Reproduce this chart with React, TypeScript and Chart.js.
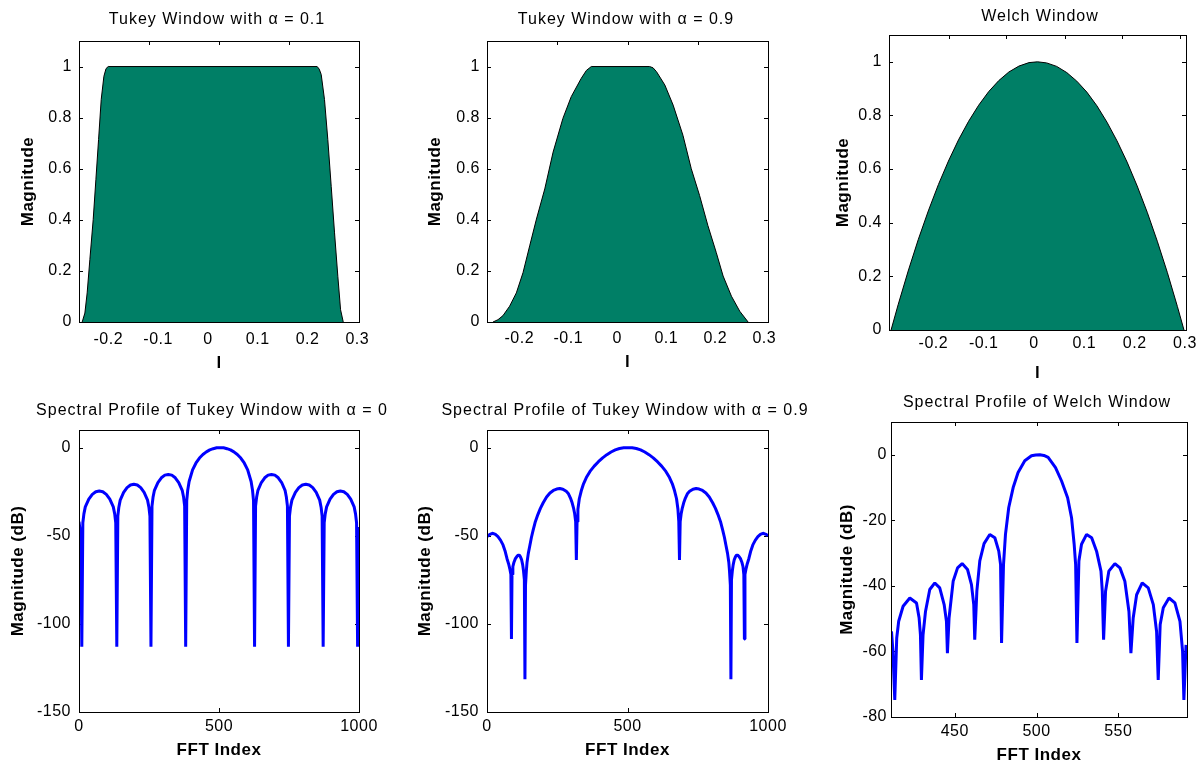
import React, { useEffect, useRef } from 'react';
import { Chart, registerables } from 'chart.js';

Chart.register(...registerables);

const FONT = '"Liberation Sans", Arial, Helvetica, sans-serif';
const GREEN = '#007F66';
const BLUE = '#0000FF';

// ---------- Data ----------
// Tukey window, alpha = 0.1
const tukey01X = [-0.2524, -0.247, -0.2424, -0.237, -0.2303, -0.2249, -0.2195, -0.2142, -0.2088, -0.2045, -0.2001, 0.2194, 0.2235, 0.2275, 0.2341, 0.2408, 0.2476, 0.2543, 0.2609, 0.2664, 0.2718];
const tukey01Y = [0, 0.035, 0.114, 0.244, 0.401, 0.557, 0.714, 0.871, 0.962, 0.992, 1, 1, 0.99, 0.969, 0.871, 0.714, 0.531, 0.349, 0.179, 0.048, 0];

// Tukey window, alpha = 0.9
const tukey09X = [-0.2537, -0.2435, -0.2333, -0.2197, -0.206, -0.1924, -0.1788, -0.165, -0.148, -0.131, -0.111, -0.094, -0.0735, -0.063, -0.053, 0.066, 0.073, 0.08, 0.097, 0.114, 0.134, 0.151, 0.168, 0.185, 0.202, 0.216, 0.233, 0.25, 0.267];
const tukey09Y = [0, 0.009, 0.025, 0.062, 0.114, 0.193, 0.298, 0.403, 0.521, 0.665, 0.797, 0.882, 0.954, 0.985, 1, 1, 0.995, 0.98, 0.928, 0.849, 0.731, 0.6, 0.495, 0.377, 0.272, 0.18, 0.101, 0.042, 0];

// Welch window
const welchX = [-0.284, -0.27, -0.25, -0.23, -0.21, -0.19, -0.17, -0.15, -0.13, -0.11, -0.09, -0.07, -0.05, -0.03, -0.01, 0.007, 0.025, 0.045, 0.065, 0.085, 0.105, 0.125, 0.145, 0.165, 0.185, 0.205, 0.225, 0.245, 0.265, 0.285, 0.298];
const welchY = [0, 0.094, 0.22, 0.337, 0.444, 0.542, 0.63, 0.709, 0.778, 0.838, 0.889, 0.93, 0.962, 0.984, 0.997, 1, 0.996, 0.983, 0.96, 0.928, 0.887, 0.836, 0.775, 0.705, 0.626, 0.537, 0.439, 0.331, 0.214, 0.087, 0];

// Spectral profile, Tukey alpha = 0 (dB vs FFT index)
const spec0X = [0, 4, 7, 10,
  13.7, 17.5, 22.5, 35, 47.5, 60, 72.5, 85, 97.5, 110, 122.5, 127.5, 131.2, 135,
  138.7, 142.3, 147.2, 159.4, 171.6, 183.8, 196, 208.2, 220.4, 232.6, 244.8, 249.7, 253.3, 257,
  260.7, 264.4, 269.4, 281.8, 294.2, 306.6, 319, 331.4, 343.8, 356.2, 368.6, 373.6, 377.3, 381,
  384.7, 388.4, 393.3, 405.6, 417.9, 430.2, 442.5, 454.8, 467.1, 479.4, 491.7, 504, 516.3, 528.6, 540.9, 553.2, 565.5, 577.8, 590.1, 602.4, 614.7, 619.6, 623.3, 627,
  630.6, 634.3, 639.1, 651.2, 663.3, 675.4, 687.5, 699.6, 711.7, 723.8, 735.9, 740.7, 744.4, 748,
  751.7, 755.4, 760.4, 772.8, 785.2, 797.6, 810, 822.4, 834.8, 847.2, 859.6, 864.6, 868.3, 872,
  875.7, 879.4, 884.3, 896.6, 908.9, 921.2, 933.5, 945.8, 958.1, 970.4, 982.7, 987.6, 991.3, 995,
  997, 1000];
const spec0Y = [-42, -47, -55, -113,
  -42.6, -37.6, -33.6, -29.2, -26.5, -25, -24.6, -25, -26.5, -29.2, -33.6, -37.6, -42.6, -113,
  -38.8, -33.8, -29.8, -25.4, -22.7, -21.2, -20.8, -21.2, -22.7, -25.4, -29.8, -33.8, -38.8, -113,
  -33.2, -28.2, -24.2, -19.8, -17.1, -15.6, -15.2, -15.6, -17.1, -19.8, -24.2, -28.2, -33.2, -113,
  -30.2, -24, -19.2, -12.6, -8.7, -5.9, -3.9, -2.4, -1.3, -0.6, -0.1, 0, -0.1, -0.6, -1.3, -2.4, -3.9, -5.9, -8.7, -12.6, -19.2, -24, -30.2, -113,
  -33.2, -28.2, -24.2, -19.8, -17.1, -15.6, -15.2, -15.6, -17.1, -19.8, -24.2, -28.2, -33.2, -113,
  -38.8, -33.8, -29.8, -25.4, -22.7, -21.2, -20.8, -21.2, -22.7, -25.4, -29.8, -33.8, -38.8, -113,
  -42.6, -37.6, -33.6, -29.2, -26.5, -25, -24.6, -25, -26.5, -29.2, -33.6, -37.6, -42.6, -113,
  -52, -45];

// Spectral profile, Tukey alpha = 0.9
const spec9X = [0, 10, 21, 30, 39, 48, 57, 64, 71, 77, 81, 85, 87, 89, 92, 96, 101, 106, 111, 115, 119, 123, 127, 130, 133, 135,
  137, 140, 142.5, 147, 152, 158, 164, 172, 181, 190, 200, 212, 224, 236, 248, 259, 270, 282, 290, 297, 303, 308, 312, 315.5, 318,
  320.5, 323.5, 328.5, 335.5, 343.5, 353.5, 366.5, 381.5, 396.5, 411.5, 426.5, 441.5, 456.5, 471.5, 486.5, 501.5, 516.5, 531.5, 546.5, 561.5, 576.5, 591.5, 606.5, 621.5, 636.5, 649.5, 659.5, 667.5, 674.5, 679.5, 682.5, 685,
  687.5, 691, 695, 700, 706, 713, 721, 733, 744, 755, 767, 779, 791, 803, 813, 822, 831, 839, 845, 851, 856, 860.5, 863, 866, 868,
  870, 873, 876, 880, 884, 888, 892, 897, 902, 907, 911, 914, 916, 918, 922, 926, 932, 939, 946, 955, 964, 973, 982, 993, 1000];
const spec9Y = [-50.5, -49.2, -48.6, -49.2, -50.5, -52.5, -55.2, -58.5, -62.9, -66, -68.6, -72, -108.6, -72, -67.5, -65, -63, -61.8, -61, -61, -62, -63.5, -66.5, -70, -75, -131.4,
  -78, -70, -65, -60, -56, -51, -47, -42, -38, -34.5, -31.3, -28, -25.7, -24.3, -23.5, -23.2, -23.6, -24.8, -26.2, -28.6, -31.3, -34.3, -37.5, -42, -63.8,
  -42, -35, -29, -24.5, -20.5, -17, -13.5, -10.5, -8, -5.8, -4, -2.5, -1.3, -0.5, -0.1, 0, -0.1, -0.5, -1.3, -2.5, -4, -5.8, -8, -10.5, -13.5, -17, -20.5, -24.5, -29, -35, -42, -63.8,
  -42, -37.5, -34.3, -31.3, -28.6, -26.2, -24.8, -23.6, -23.2, -23.5, -24.3, -25.7, -28, -31.3, -34.5, -38, -42, -47, -51, -56, -60, -65, -70, -78, -131.4,
  -75, -70, -66.5, -63.5, -62, -61, -61, -61.8, -63, -65, -67.5, -72, -108.6, -72, -68.6, -66, -62.9, -58.5, -55.2, -52.5, -50.5, -49.2, -48.6, -49.2, -50];

// Spectral profile, Welch window
const specWX = [411.3, 412.2, 413.3, 414.5, 415.7, 418.4, 422.5, 426.6, 428.2, 429, 429.6, 430.6, 432.1, 434.7, 437.8, 440.8, 443.5, 444.9, 445.5, 446.5, 449, 451.7, 454.5, 457.8, 460.2, 461.6, 462.2, 463.5, 465.3, 467.9, 471.4, 474.5, 476.9, 478, 478.6, 479.8, 481, 483, 485.7, 488.7, 492.8, 496.9, 499.5, 502, 504.5, 507.1, 511.6, 515.3, 519, 521.4, 523, 523.9, 524.7, 525.9, 527.5, 530.6, 533.7, 536.7, 539.4, 540.2, 541, 542.2, 544.2, 547.9, 551, 554, 556.5, 557.7, 559.1, 561.2, 564.6, 568.3, 571.4, 573.4, 574.4, 575.6, 577.5, 581, 584.6, 587.7, 589.3, 590.1, 591.4];
const specWY = [-53.9, -60, -74.8, -55.9, -50.8, -46.2, -43.7, -45.2, -49.8, -54.9, -68.7, -54.9, -47.8, -41.1, -39.1, -40.6, -45.7, -50.8, -60.5, -49.8, -38.6, -34.5, -33.2, -35, -39.6, -45.7, -56.4, -41.6, -32.4, -27.1, -24.3, -25.3, -29.4, -33.5, -57.4, -33.5, -24.3, -16.1, -10, -5.4, -1.8, -0.3, -0.05, 0, -0.2, -0.8, -3.9, -8, -13.1, -19.2, -27.3, -33.5, -57.4, -32.4, -27.3, -24.3, -25.3, -29.4, -35.5, -41.6, -56.4, -41.6, -35.5, -33.2, -34.5, -38.6, -47.8, -60.5, -49.8, -42.7, -39.1, -40.6, -45.7, -53.9, -68.7, -51.8, -46.7, -43.7, -45.2, -50.8, -60, -74.8, -58];

// Tick values and labels
const winXTicks = [-0.2, -0.1, 0, 0.1, 0.2, 0.3];
const winXTickLabels = ['-0.2', '-0.1', '0', '0.1', '0.2', '0.3'];
const winYTicks = [0, 0.2, 0.4, 0.6, 0.8, 1];
const winYTickLabels = ['0', '0.2', '0.4', '0.6', '0.8', '1'];
const tukey01Marks = [-0.1183, 0.0223, 0.1628];
const tukey09Marks = [-0.1225, 0.0209, 0.1643];
const welchMarks = [-0.1695, -0.055, 0.0606, 0.1757, 0.2908];
const fftXTicks = [0, 500, 1000];
const fftXTickLabels = ['0', '500', '1000'];
const dbYTicks = [-150, -100, -50, 0];
const dbYTickLabels = ['-150', '-100', '-50', '0'];
const welchFftXTicks = [450, 500, 550];
const welchFftXTickLabels = ['450', '500', '550'];
const welchDbYTicks = [-80, -60, -40, -20, 0];
const welchDbYTickLabels = ['-80', '-60', '-40', '-20', '0'];

// ---------- Panels ----------
type Box = {
  cl: number; ct: number; cw: number; ch: number;
  al: number; at: number; ar: number; ab: number;
  titleX: number; titleY: number; yTitleX: number; xTitleY: number;
  xTickPad: number; yTickPad: number;
};
type Panel = {
  title: string; xLabel: string; yLabel: string;
  xs: number[]; ys: number[]; filled: boolean;
  xMin: number; xMax: number; yMin: number; yMax: number;
  xTicks: number[]; xTickLabels: string[]; yTicks: number[]; yTickLabels: string[];
  xMarks: number[]; box: Box;
};

const panels: Panel[] = [
  {
    title: 'Tukey Window with \u03b1 = 0.1', xLabel: 'l', yLabel: 'Magnitude',
    xs: tukey01X, ys: tukey01Y, filled: true,
    xMin: -0.2588, xMax: 0.3034, yMin: 0, yMax: 1.1,
    xTicks: winXTicks, xTickLabels: winXTickLabels, yTicks: winYTicks, yTickLabels: winYTickLabels,
    xMarks: tukey01Marks,
    box: { cl: 0, ct: 0, cw: 420, ch: 380, al: 79, at: 41, ar: 359, ab: 322, titleX: 217, titleY: 20, yTitleX: 28, xTitleY: 363, xTickPad: 8.4, yTickPad: 7 },
  },
  {
    title: 'Tukey Window with \u03b1 = 0.9', xLabel: 'l', yLabel: 'Magnitude',
    xs: tukey09X, ys: tukey09Y, filled: true,
    xMin: -0.2659, xMax: 0.3076, yMin: 0, yMax: 1.1,
    xTicks: winXTicks, xTickLabels: winXTickLabels, yTicks: winYTicks, yTickLabels: winYTickLabels,
    xMarks: tukey09Marks,
    box: { cl: 400, ct: 0, cw: 400, ch: 380, al: 487, at: 41, ar: 768, ab: 322, titleX: 626, titleY: 20, yTitleX: 435, xTitleY: 362, xTickPad: 6.7, yTickPad: 7 },
  },
  {
    title: 'Welch Window', xLabel: 'l', yLabel: 'Magnitude',
    xs: welchX, ys: welchY, filled: true,
    xMin: -0.2881, xMax: 0.302, yMin: 0, yMax: 1.1,
    xTicks: winXTicks, xTickLabels: winXTickLabels, yTicks: winYTicks, yTickLabels: winYTickLabels,
    xMarks: welchMarks,
    box: { cl: 800, ct: 0, cw: 400, ch: 380, al: 889, at: 35, ar: 1186, ab: 330, titleX: 1040, titleY: 17, yTitleX: 843, xTitleY: 373, xTickPad: 3.7, yTickPad: 7 },
  },
  {
    title: 'Spectral Profile of Tukey Window with \u03b1 = 0', xLabel: 'FFT Index', yLabel: 'Magnitude (dB)',
    xs: spec0X, ys: spec0Y, filled: false,
    xMin: 0, xMax: 1000, yMin: -150, yMax: 10,
    xTicks: fftXTicks, xTickLabels: fftXTickLabels, yTicks: dbYTicks, yTickLabels: dbYTickLabels,
    xMarks: fftXTicks,
    box: { cl: 0, ct: 380, cw: 420, ch: 385, al: 79, at: 430, ar: 359, ab: 712, titleX: 212, titleY: 411, yTitleX: 18, xTitleY: 750, xTickPad: 5.1, yTickPad: 8 },
  },
  {
    title: 'Spectral Profile of Tukey Window with \u03b1 = 0.9', xLabel: 'FFT Index', yLabel: 'Magnitude (dB)',
    xs: spec9X, ys: spec9Y, filled: false,
    xMin: 0, xMax: 1000, yMin: -150, yMax: 10,
    xTicks: fftXTicks, xTickLabels: fftXTickLabels, yTicks: dbYTicks, yTickLabels: dbYTickLabels,
    xMarks: fftXTicks,
    box: { cl: 380, ct: 380, cw: 440, ch: 385, al: 487, at: 430, ar: 768, ab: 712, titleX: 625, titleY: 411, yTitleX: 425, xTitleY: 750, xTickPad: 5.1, yTickPad: 8 },
  },
  {
    title: 'Spectral Profile of Welch Window', xLabel: 'FFT Index', yLabel: 'Magnitude (dB)',
    xs: specWX, ys: specWY, filled: false,
    xMin: 411, xMax: 592, yMin: -80, yMax: 10,
    xTicks: welchFftXTicks, xTickLabels: welchFftXTickLabels, yTicks: welchDbYTicks, yTickLabels: welchDbYTickLabels,
    xMarks: welchFftXTicks,
    box: { cl: 800, ct: 380, cw: 400, ch: 385, al: 891, at: 422, ar: 1187, ab: 717, titleX: 1037, titleY: 403, yTitleX: 847, xTitleY: 755, xTickPad: 5.1, yTickPad: 4 },
  },
];

// ---------- MATLAB-like axes plugin ----------
const matlabAxes = {
  id: 'matlabAxes',
  beforeDraw(chart: any) {
    chart.ctx.letterSpacing = '0.5px';
  },
  beforeDatasetsDraw(chart: any, _args: any, opts: any) {
    const { ctx, chartArea } = chart;
    const { left, right, top, bottom } = chartArea;
    const xs = chart.scales.x;
    const ys = chart.scales.y;
    const len = 4;
    ctx.save();
    ctx.strokeStyle = '#000';
    ctx.lineWidth = 1;
    ctx.beginPath();
    for (const v of opts.xMarks) {
      const p = Math.round(xs.getPixelForValue(v)) + 0.5;
      ctx.moveTo(p, bottom);
      ctx.lineTo(p, bottom - len);
      ctx.moveTo(p, top);
      ctx.lineTo(p, top + len);
    }
    for (const v of opts.yMarks) {
      const p = Math.round(ys.getPixelForValue(v)) + 0.5;
      ctx.moveTo(left, p);
      ctx.lineTo(left + len, p);
      ctx.moveTo(right, p);
      ctx.lineTo(right - len, p);
    }
    ctx.stroke();
    ctx.restore();
  },
  afterDatasetsDraw(chart: any) {
    const { ctx, chartArea } = chart;
    const { left, right, top, bottom } = chartArea;
    ctx.save();
    ctx.strokeStyle = '#000';
    ctx.lineWidth = 1;
    ctx.strokeRect(Math.round(left) + 0.5, Math.round(top) + 0.5, Math.round(right - left), Math.round(bottom - top));
    ctx.restore();
  },
  afterDraw(chart: any, _args: any, opts: any) {
    const { ctx } = chart;
    ctx.save();
    ctx.letterSpacing = '1px';
    ctx.font = `normal 16px ${FONT}`;
    ctx.fillStyle = '#000';
    ctx.textAlign = 'center';
    ctx.textBaseline = 'middle';
    ctx.fillText(opts.title, opts.titleX, opts.titleY);
    ctx.restore();
  },
};

function buildConfig(p: Panel): any {
  const b = p.box;
  const axSize = 17;
  const lhAx = axSize * 1.2;
  const zeroPad = (s: any) => {
    s.paddingLeft = 0;
    s.paddingRight = 0;
    s.paddingTop = 0;
    s.paddingBottom = 0;
  };
  return {
    type: 'line',
    data: {
      datasets: [
        {
          data: p.xs.map((x, i) => ({ x, y: p.ys[i] })),
          borderColor: p.filled ? '#000' : BLUE,
          borderWidth: p.filled ? 1 : 3,
          backgroundColor: p.filled ? GREEN : 'rgba(0,0,0,0)',
          fill: p.filled ? 'origin' : false,
          pointRadius: 0,
          tension: 0,
          borderJoinStyle: 'bevel',
        },
      ],
    },
    options: {
      responsive: false,
      animation: false,
      events: [],
      devicePixelRatio: 1,
      layout: { padding: { left: 0, top: b.at - b.ct, right: b.cl + b.cw - b.ar, bottom: 0 } },
      plugins: {
        legend: { display: false },
        tooltip: { enabled: false },
        title: { display: false },
        matlabAxes: {
          xMarks: p.xMarks,
          yMarks: p.yTicks,
          title: p.title,
          titleX: b.titleX - b.cl,
          titleY: b.titleY - b.ct,
        },
      },
      scales: {
        x: {
          type: 'linear',
          position: 'bottom',
          min: p.xMin,
          max: p.xMax,
          grid: { display: false, drawTicks: false },
          border: { display: false },
          ticks: {
            autoSkip: false,
            maxRotation: 0,
            minRotation: 0,
            padding: b.xTickPad,
            color: '#000',
            font: { family: FONT, size: 16 },
            callback: (_v: any, i: number) => p.xTickLabels[i],
          },
          title: {
            display: true,
            text: p.xLabel,
            color: '#000',
            font: { family: FONT, size: axSize, weight: 'bold' },
            padding: { top: 0, bottom: b.ct + b.ch - b.xTitleY - lhAx / 2 },
          },
          afterBuildTicks: (s: any) => {
            s.ticks = p.xTicks.map((value) => ({ value }));
          },
          afterFit: (s: any) => {
            s.height = b.ct + b.ch - b.ab;
            zeroPad(s);
          },
        },
        y: {
          type: 'linear',
          position: 'left',
          min: p.yMin,
          max: p.yMax,
          grid: { display: false, drawTicks: false },
          border: { display: false },
          ticks: {
            autoSkip: false,
            padding: b.yTickPad,
            color: '#000',
            font: { family: FONT, size: 16 },
            callback: (_v: any, i: number) => p.yTickLabels[i],
          },
          title: {
            display: true,
            text: p.yLabel,
            color: '#000',
            font: { family: FONT, size: axSize, weight: 'bold' },
            padding: { top: b.yTitleX - b.cl - lhAx / 2, bottom: 0 },
          },
          afterBuildTicks: (s: any) => {
            s.ticks = p.yTicks.map((value) => ({ value }));
          },
          afterFit: (s: any) => {
            s.width = b.al - b.cl;
            zeroPad(s);
          },
        },
      },
    },
    plugins: [matlabAxes],
  };
}

function PanelChart({ panel }: { panel: Panel }) {
  const ref = useRef<HTMLCanvasElement>(null);
  useEffect(() => {
    if (!ref.current) return;
    const chart = new Chart(ref.current, buildConfig(panel));
    return () => chart.destroy();
  }, [panel]);
  const b = panel.box;
  return (
    <canvas
      ref={ref}
      width={b.cw}
      height={b.ch}
      style={{ position: 'absolute', left: b.cl, top: b.ct, width: b.cw, height: b.ch }}
    />
  );
}

export default function App() {
  return (
    <div style={{ position: 'fixed', left: 0, top: 0, width: 1200, height: 765, background: '#fff', overflow: 'hidden' }}>
      {panels.map((p, i) => (
        <PanelChart key={i} panel={p} />
      ))}
    </div>
  );
}
